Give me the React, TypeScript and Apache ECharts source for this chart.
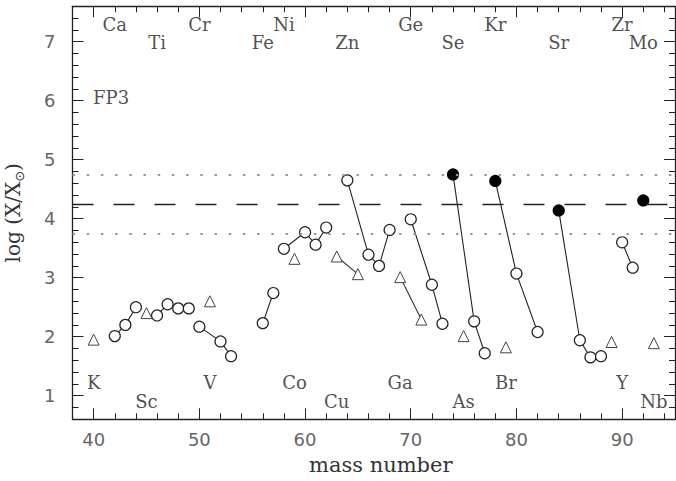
import React, { useEffect, useRef } from "react";
import * as echarts from "echarts";

// ---- axis ticks ----
const xMinorTicks = [38, 40, 42, 44, 46, 48, 50, 52, 54, 56, 58, 60, 62, 64, 66, 68, 70, 72, 74, 76, 78, 80, 82, 84, 86, 88, 90, 92, 94];
const xMajorTicks = [40, 50, 60, 70, 80, 90];
const yMinorTicks = [0.8, 1.0, 1.2, 1.4, 1.6, 1.8, 2.0, 2.2, 2.4, 2.6, 2.8, 3.0, 3.2, 3.4, 3.6, 3.8, 4.0, 4.2, 4.4, 4.6, 4.8, 5.0, 5.2, 5.4, 5.6, 5.8, 6.0, 6.2, 6.4, 6.6, 6.8, 7.0, 7.2, 7.4];
const yMajorTicks = [1, 2, 3, 4, 5, 6, 7];

// ---- even-Z isotopes (open circles, filled = p-process only) ----
const evenGroupMasses = [
  [42, 43, 44],
  [46, 47, 48, 49],
  [50, 52, 53],
  [56, 57],
  [58, 60, 61, 62],
  [64, 66, 67, 68],
  [70, 72, 73],
  [74, 76, 77],
  [78, 80, 82],
  [84, 86, 87, 88],
  [90, 91],
  [92],
];
const evenGroupValues = [
  [2.01, 2.2, 2.5],
  [2.36, 2.55, 2.48, 2.48],
  [2.17, 1.92, 1.67],
  [2.23, 2.74],
  [3.49, 3.77, 3.56, 3.85],
  [4.65, 3.39, 3.2, 3.81],
  [3.99, 2.88, 2.22],
  [4.75, 2.26, 1.72],
  [4.64, 3.07, 2.08],
  [4.14, 1.94, 1.65, 1.67],
  [3.6, 3.17],
  [4.31],
];
const filledMasses = [74, 78, 84, 92];

// ---- odd-Z isotopes (open triangles) ----
const oddGroupMasses = [[40], [45], [51], [59], [63, 65], [69, 71], [75], [79], [89], [93]];
const oddGroupValues = [[1.95], [2.4], [2.6], [3.32], [3.36, 3.06], [3.01, 2.29], [2.01], [1.82], [1.91], [1.89]];

// ---- reference levels ----
const meanLevel = 4.25;
const bandLevels = [3.75, 4.75];

// ---- element labels ----
const topRowNames = ["Ca", "Cr", "Ni", "Ge", "Kr", "Zr"];
const topRowMasses = [42, 50, 58, 70, 78, 90];
const secondRowNames = ["Ti", "Fe", "Zn", "Se", "Sr", "Mo"];
const secondRowMasses = [46, 56, 64, 74, 84, 92];
const lowRowNames = ["K", "V", "Co", "Ga", "Br", "Y"];
const lowRowMasses = [40, 51, 59, 69, 79, 90];
const bottomRowNames = ["Sc", "Cu", "As", "Nb"];
const bottomRowMasses = [45, 63, 75, 93];
const panelName = "FP3";

const SERIF = "DejaVu Serif";
const SANS = "DejaVu Sans";

function labelSeries(names: string[], masses: number[], level: number, align = "center") {
  return {
    type: "scatter",
    xAxisIndex: 0,
    yAxisIndex: 0,
    silent: true,
    symbolSize: 1,
    itemStyle: { color: "rgba(0,0,0,0)" },
    z: 5,
    label: {
      show: true,
      position: "inside",
      formatter: "{b}",
      fontFamily: SERIF,
      fontSize: 18,
      color: "#222",
      align,
    },
    data: names.map((n, i) => ({ name: n, value: [masses[i], level] })),
  };
}

function buildOption() {
  const series: any[] = [];
  // reference lines
  series.push({
    type: "line",
    xAxisIndex: 0,
    yAxisIndex: 0,
    data: [],
    silent: true,
    markLine: {
      silent: true,
      symbol: "none",
      label: { show: false },
      data: [
        { yAxis: meanLevel, lineStyle: { type: [21, 20], width: 1.3, color: "#222" } },
        ...bandLevels.map((v) => ({ yAxis: v, lineStyle: { type: [2.5, 11.7], width: 2, color: "#999" } })),
      ],
    },
  });
  evenGroupMasses.forEach((ms, gi) => {
    series.push({
      type: "line",
      xAxisIndex: 0,
      yAxisIndex: 0,
      symbol: "circle",
      symbolSize: 11,
      showAllSymbol: true,
      lineStyle: { color: "#222", width: 1.1 },
      itemStyle: { color: "#fff", borderColor: "#222", borderWidth: 1.2 },
      z: 4,
      data: ms.map((m, i) => {
        const filled = filledMasses.includes(m);
        return filled
          ? { value: [m, evenGroupValues[gi][i]], itemStyle: { color: "#000", borderColor: "#000" } }
          : { value: [m, evenGroupValues[gi][i]] };
      }),
    });
  });
  oddGroupMasses.forEach((ms, gi) => {
    series.push({
      type: "line",
      xAxisIndex: 0,
      yAxisIndex: 0,
      symbol: "triangle",
      symbolSize: 11,
      showAllSymbol: true,
      lineStyle: { color: "#333", width: 1.1 },
      itemStyle: { color: "#fff", borderColor: "#444", borderWidth: 1 },
      z: 4,
      data: ms.map((m, i) => [m, oddGroupValues[gi][i]]),
    });
  });
  series.push(labelSeries(topRowNames, topRowMasses, 7.3));
  series.push(labelSeries(secondRowNames, secondRowMasses, 6.99));
  series.push(labelSeries(lowRowNames, lowRowMasses, 1.22));
  series.push(labelSeries(bottomRowNames, bottomRowMasses, 0.9));
  series.push(labelSeries([panelName], [39.95], 6.05, "left"));

  const axisLine = { show: true, lineStyle: { color: "#222", width: 1.3 } };
  const tickStyle = { color: "#222", width: 1 };
  const tickFont = { fontFamily: SANS, fontSize: 18, color: "#666" };
  const xBase = { type: "value", min: 38, max: 95, splitLine: { show: false } };
  const yBase = { type: "value", min: 0.6, max: 7.6, splitLine: { show: false } };

  return {
    animation: false,
    backgroundColor: "#fff",
    grid: { left: 72.5, right: 1, top: 6.3, bottom: 61.7, containLabel: false, outerBoundsMode: "none" },
    xAxis: [
      {
        ...xBase,
        position: "bottom",
        axisLine,
        axisTick: { show: true, inside: true, length: 6, customValues: xMinorTicks, lineStyle: tickStyle },
        axisLabel: { customValues: xMajorTicks, margin: 11, ...tickFont },
        name: "mass number",
        nameLocation: "middle",
        nameGap: 35,
        nameTextStyle: { fontFamily: SERIF, fontSize: 21, color: "#333", padding: [0, 0, 0, 14] },
      },
      {
        ...xBase,
        position: "bottom",
        axisLine: { show: false },
        axisTick: { show: true, inside: true, length: 11, customValues: xMajorTicks, lineStyle: tickStyle },
        axisLabel: { show: false },
      },
      {
        ...xBase,
        position: "top",
        axisLine,
        axisTick: { show: true, inside: true, length: 6, customValues: xMinorTicks, lineStyle: tickStyle },
        axisLabel: { show: false },
      },
      {
        ...xBase,
        position: "top",
        axisLine: { show: false },
        axisTick: { show: true, inside: true, length: 11, customValues: xMajorTicks, lineStyle: tickStyle },
        axisLabel: { show: false },
      },
    ],
    yAxis: [
      {
        ...yBase,
        position: "left",
        axisLine,
        axisTick: { show: true, inside: true, length: 6, customValues: yMinorTicks, lineStyle: tickStyle },
        axisLabel: { customValues: yMajorTicks, margin: 17, ...tickFont },
        name: "log (X/X{s|⊙})",
        nameLocation: "middle",
        nameGap: 47,
        nameTextStyle: {
          fontFamily: SERIF,
          fontSize: 20,
          color: "#333",
          rich: { s: { fontFamily: SANS, fontSize: 13, color: "#333", padding: [12, 0, 0, 0] } },
        },
      },
      {
        ...yBase,
        position: "left",
        axisLine: { show: false },
        axisTick: { show: true, inside: true, length: 11, customValues: yMajorTicks, lineStyle: tickStyle },
        axisLabel: { show: false },
      },
      {
        ...yBase,
        position: "right",
        axisLine,
        axisTick: { show: true, inside: true, length: 6, customValues: yMinorTicks, lineStyle: tickStyle },
        axisLabel: { show: false },
      },
      {
        ...yBase,
        position: "right",
        axisLine: { show: false },
        axisTick: { show: true, inside: true, length: 11, customValues: yMajorTicks, lineStyle: tickStyle },
        axisLabel: { show: false },
      },
    ],
    series,
  };
}

export default function App() {
  const ref = useRef<HTMLDivElement>(null);
  useEffect(() => {
    if (!ref.current) return;
    const chart = echarts.init(ref.current, undefined, { renderer: "svg" });
    chart.setOption(buildOption() as any);
    return () => chart.dispose();
  }, []);
  return (
    <div
      ref={ref}
      style={{ position: "fixed", left: 0, top: 0, width: 676, height: 481, background: "#fff" }}
    />
  );
}
